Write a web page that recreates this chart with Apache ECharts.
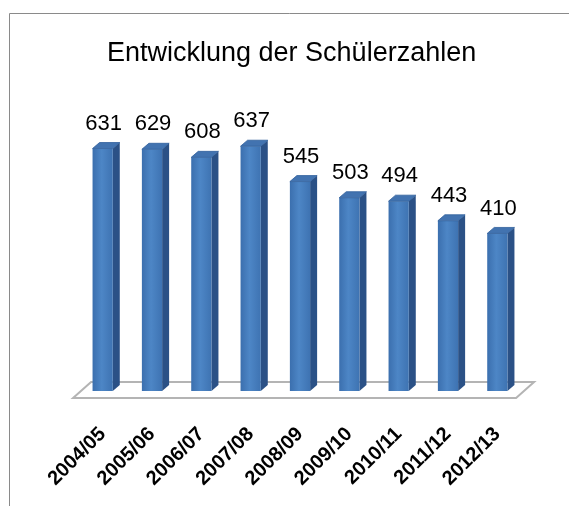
<!DOCTYPE html>
<html>
<head>
<meta charset="utf-8">
<script src="https://cdn.jsdelivr.net/npm/echarts@6/dist/echarts.min.js"></script>
<style>
    html, body { margin: 0; padding: 0; background: #fff; }
    #chart { width: 569px; height: 506px; }
</style>
</head>
<body>
<div id="chart"></div>
<script>
    // Schuljahre und Schülerzahlen
    var categories = ['2004/05', '2005/06', '2006/07', '2007/08', '2008/09', '2009/10', '2010/11', '2011/12', '2012/13'];
    var values = [631, 629, 608, 637, 545, 503, 494, 443, 410];
    var chartTitle = 'Entwicklung der Schülerzahlen';

    var chart = echarts.init(document.getElementById('chart'));

    // 3D-Säule: Vorderseite, rechte Seite, Deckel, Wert darüber
    function renderBar(params, api) {
        var top = api.coord([api.value(0), api.value(1)]);
        var base = api.coord([api.value(0), 0]);
        var band = api.size([1, 0])[0];
        var w = band * 0.41, dx = 7, dy = 6;
        var x0 = top[0] - w / 2, x1 = top[0] + w / 2;
        var yt = top[1], yb = base[1];
        return {
            type: 'group',
            children: [
                {
                    type: 'polygon',
                    shape: { points: [[x1, yt], [x1 + dx, yt - dy], [x1 + dx, yb - dy], [x1, yb]] },
                    style: { fill: '#2b5186' }
                },
                {
                    type: 'rect',
                    shape: { x: x0, y: yt, width: w, height: yb - yt },
                    style: {
                        fill: new echarts.graphic.LinearGradient(0, 0, 1, 0, [
                            { offset: 0, color: '#3b6fae' },
                            { offset: 0.45, color: '#4d86c6' },
                            { offset: 1, color: '#3e73b2' }
                        ])
                    }
                },
                {
                    type: 'polygon',
                    shape: { points: [[x0, yt], [x1, yt], [x1 + dx, yt - dy], [x0 + dx, yt - dy]] },
                    style: { fill: '#4273b0', stroke: '#30609c', lineWidth: 0.8 }
                },
                {
                    type: 'text',
                    style: {
                        text: String(api.value(1)),
                        x: top[0] + 1,
                        y: yt - 14,
                        align: 'center',
                        verticalAlign: 'bottom',
                        fontSize: 22,
                        fontFamily: 'Liberation Sans',
                        fill: '#000'
                    }
                }
            ]
        };
    }

    // Boden unter den Säulen
    function renderFloor(params, api) {
        var first = api.coord([0, 0]);
        var last = api.coord([categories.length - 1, 0]);
        var band = api.size([1, 0])[0];
        var fl = first[0] - band * 0.6, fr = last[0] + band * 0.38;
        var yFront = first[1] + 7, yBack = first[1] - 9, sh = 18;
        return {
            type: 'polygon',
            shape: { points: [[fl, yFront], [fr, yFront], [fr + sh, yBack], [fl + sh, yBack]] },
            style: { fill: '#fff', stroke: '#b4b4b4', lineWidth: 2 }
        };
    }

    var option = {
        backgroundColor: '#fff',
        title: {
            text: chartTitle,
            left: 102,
            top: 35,
            textStyle: { color: '#000', fontSize: 27, fontWeight: 'normal', fontFamily: 'Liberation Sans' }
        },
        graphic: [
            { type: 'line', shape: { x1: 9.5, y1: 13.5, x2: 9.5, y2: 506 }, style: { stroke: '#8a8a8a', lineWidth: 1 } },
            { type: 'line', shape: { x1: 9.5, y1: 13.5, x2: 569, y2: 13.5 }, style: { stroke: '#8a8a8a', lineWidth: 1 } }
        ],
        grid: { left: 78, right: 47, top: 122, bottom: 115 },
        xAxis: {
            type: 'category',
            data: categories,
            axisLine: { show: false },
            axisTick: { show: false },
            axisLabel: {
                interval: 0,
                rotate: 45,
                margin: 40,
                color: '#000',
                fontSize: 20,
                fontWeight: 'bold',
                fontFamily: 'Liberation Sans'
            }
        },
        yAxis: {
            type: 'value',
            min: 0,
            max: 700,
            show: false,
            splitLine: { show: false }
        },
        series: [
            {
                type: 'custom',
                renderItem: renderFloor,
                data: [[0, 0]],
                z: 1,
                silent: true
            },
            {
                type: 'custom',
                renderItem: renderBar,
                data: values.map(function (v, i) { return [i, v]; }),
                z: 2
            }
        ]
    };

    chart.setOption(option);
</script>
</body>
</html>
